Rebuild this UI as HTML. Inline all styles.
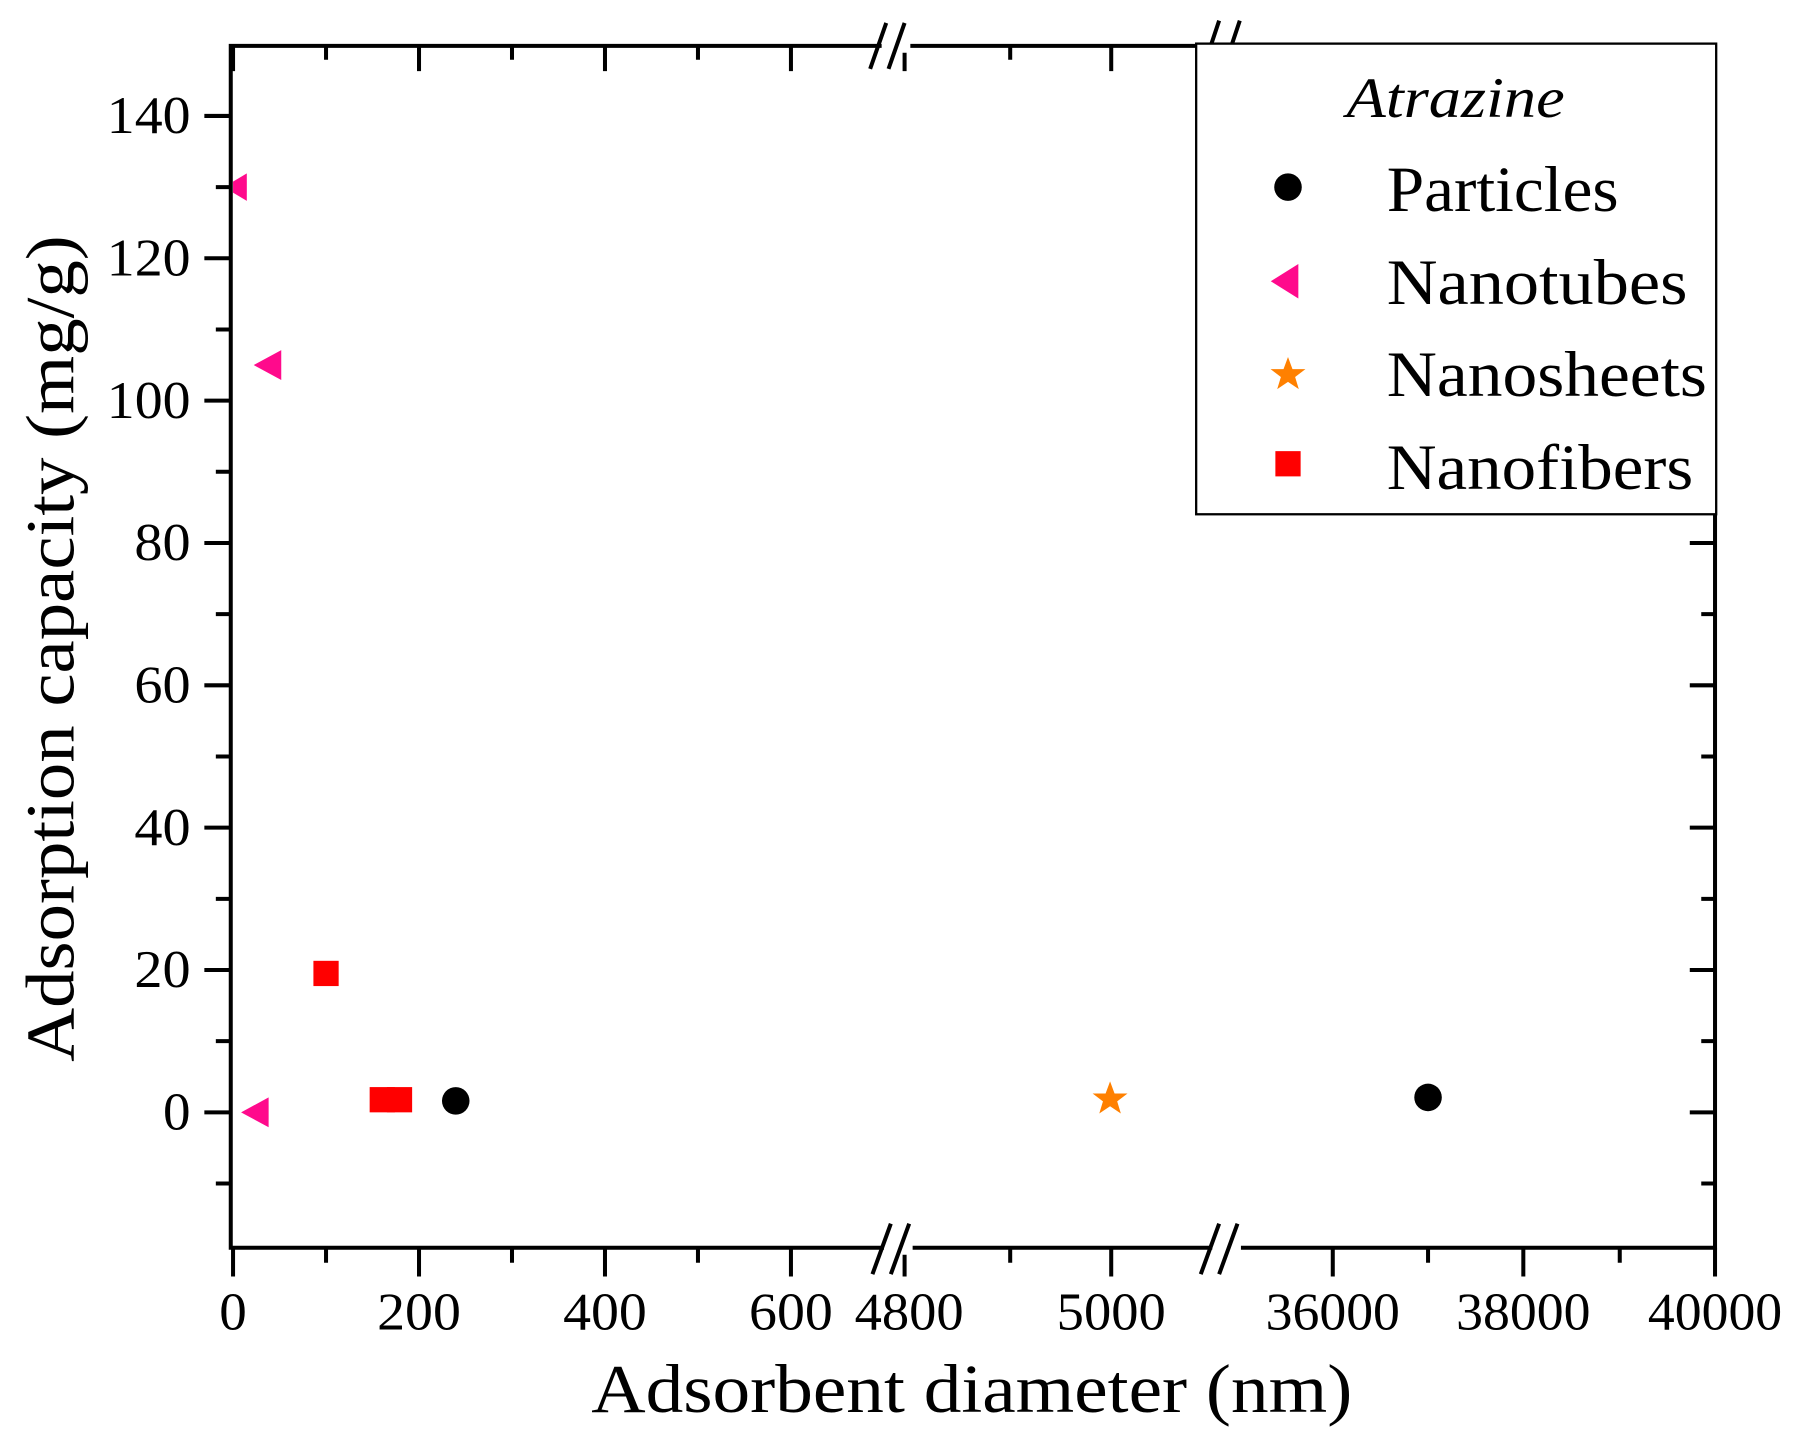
<!DOCTYPE html>
<html><head><meta charset="utf-8"><style>html,body{margin:0;padding:0;background:#fff}svg{display:block}</style></head>
<body>
<svg width="1800" height="1448" viewBox="0 0 1568 1261.4" xmlns="http://www.w3.org/2000/svg" font-family="'Liberation Serif', serif">
<rect width="1568" height="1262" fill="#fff"/>
<g stroke="#000" stroke-width="3.5" fill="none">
<path d="M201,40 H1494 V1087 H201 Z"/>
<path d="M178,969H201M178,845H201M178,721H201M178,597H201M178,473H201M178,349H201M178,225H201M178,101H201"/>
<path d="M188,1031H201M188,907H201M188,783H201M188,659H201M188,535H201M188,411H201M188,287H201M188,163H201"/>
<path d="M1472,969H1494M1472,845H1494M1472,721H1494M1472,597H1494M1472,473H1494M1472,349H1494M1472,225H1494M1472,101H1494"/>
<path d="M1482,1031H1494M1482,907H1494M1482,783H1494M1482,659H1494M1482,535H1494M1482,411H1494M1482,287H1494M1482,163H1494"/>
<path d="M203,1087V1112M365,1087V1112M527,1087V1112M689,1087V1112M788,1087V1112M968,1087V1112M1161,1087V1112M1327,1087V1112M1494,1087V1112"/>
<path d="M284,1087V1100M446,1087V1100M608,1087V1100M880,1087V1100M1244,1087V1100M1411,1087V1100"/>
<path d="M203,40V62M365,40V62M527,40V62M689,40V62M788,40V62M968,40V62"/>
<path d="M284,40V52M446,40V52M608,40V52M880,40V52"/>
</g>
<g stroke="#fff" stroke-width="12">
<path d="M770,1087H795M1056,1087H1081M768,40H793M1060,40H1085"/>
</g>
<g stroke="#000" stroke-width="3.5">
<path d="M760,1110L776,1066M776,1110L792,1066M1046,1110L1062,1066M1062,1110L1078,1066"/>
<path d="M758,60L772,20M774,60L788,20M1048,60L1062,18M1066,60L1080,18"/>
</g>
<g font-size="46" fill="#000" lengthAdjust="spacingAndGlyphs">
<g text-anchor="end">
<text x="166" y="984" textLength="24" lengthAdjust="spacingAndGlyphs">0</text>
<text x="166" y="860" textLength="49" lengthAdjust="spacingAndGlyphs">20</text>
<text x="166" y="736" textLength="49" lengthAdjust="spacingAndGlyphs">40</text>
<text x="166" y="612" textLength="49" lengthAdjust="spacingAndGlyphs">60</text>
<text x="166" y="488" textLength="49" lengthAdjust="spacingAndGlyphs">80</text>
<text x="166" y="364" textLength="73" lengthAdjust="spacingAndGlyphs">100</text>
<text x="166" y="240" textLength="73" lengthAdjust="spacingAndGlyphs">120</text>
<text x="166" y="116" textLength="73" lengthAdjust="spacingAndGlyphs">140</text>
</g>
<g text-anchor="middle">
<text x="203" y="1158" textLength="24" lengthAdjust="spacingAndGlyphs">0</text>
<text x="365" y="1158" textLength="73" lengthAdjust="spacingAndGlyphs">200</text>
<text x="527" y="1158" textLength="73" lengthAdjust="spacingAndGlyphs">400</text>
<text x="689" y="1158" textLength="73" lengthAdjust="spacingAndGlyphs">600</text>
<text x="792" y="1158" textLength="95" lengthAdjust="spacingAndGlyphs">4800</text>
<text x="968" y="1158" textLength="95" lengthAdjust="spacingAndGlyphs">5000</text>
<text x="1161" y="1158" textLength="117" lengthAdjust="spacingAndGlyphs">36000</text>
<text x="1327" y="1158" textLength="117" lengthAdjust="spacingAndGlyphs">38000</text>
<text x="1494" y="1158" textLength="117" lengthAdjust="spacingAndGlyphs">40000</text>
</g>
</g>
<text x="515" y="1230" font-size="60" textLength="663" lengthAdjust="spacingAndGlyphs">Adsorbent diameter (nm)</text>
<text transform="translate(64,925) rotate(-90)" font-size="60" textLength="720" lengthAdjust="spacingAndGlyphs">Adsorption capacity (mg/g)</text>
<clipPath id="c"><rect x="203" y="40" width="1291" height="1047"/></clipPath>
<g clip-path="url(#c)">
<path d="M195,163L215,151V175Z" fill="#FF0A8C"/>
<path d="M221,318L245,305V331Z" fill="#FF0A8C"/>
<path d="M210,969L234,956V982Z" fill="#FF0A8C"/>
</g>
<rect x="273" y="837" width="22" height="22" fill="#f00"/>
<rect x="337" y="947" width="22" height="22" fill="#f00"/>
<rect x="322" y="947" width="22" height="22" fill="#f00"/>
<circle cx="397" cy="959" r="12" fill="#000"/>
<circle cx="1244" cy="956" r="12" fill="#000"/>
<path d="M967,942L970.9,952.6L982.2,952.6L973.2,959.4L976.4,970L967,963.7L957.6,970L960.8,959.4L951.8,952.6L963.1,952.6Z" fill="#FF8000"/>
<rect x="1042" y="38" width="453" height="410" fill="#fff" stroke="#000" stroke-width="2"/>
<text x="1173" y="102" font-size="50" font-style="italic" textLength="190" lengthAdjust="spacingAndGlyphs">Atrazine</text>
<g font-size="56" fill="#000">
<text x="1208" y="184" textLength="202" lengthAdjust="spacingAndGlyphs">Particles</text>
<text x="1208" y="265" textLength="262" lengthAdjust="spacingAndGlyphs">Nanotubes</text>
<text x="1208" y="345" textLength="279" lengthAdjust="spacingAndGlyphs">Nanosheets</text>
<text x="1208" y="426" textLength="267" lengthAdjust="spacingAndGlyphs">Nanofibers</text>
</g>
<circle cx="1122" cy="163" r="12" fill="#000"/>
<path d="M1107,245L1131,230V260Z" fill="#FF0A8C"/>
<path d="M1122,311L1125.9,321.6L1137.2,321.6L1128.2,328.4L1131.4,339L1122,332.7L1112.6,339L1115.8,328.4L1106.8,321.6L1118.1,321.6Z" fill="#FF8000"/>
<rect x="1111" y="393" width="22" height="22" fill="#f00"/>
</svg>
</body></html>
